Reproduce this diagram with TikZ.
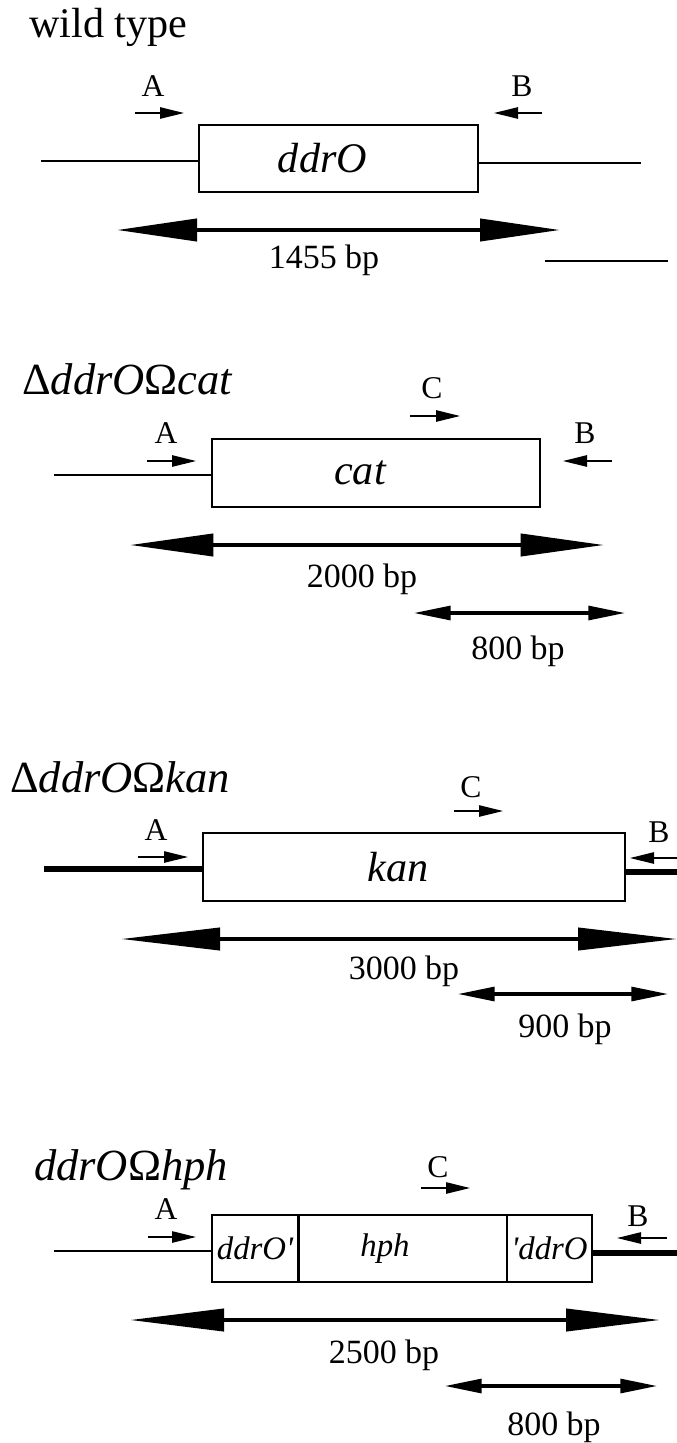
\documentclass[tikz,border=0pt]{standalone}
\usepackage{fontspec}
\setmainfont{Liberation Serif}
\usetikzlibrary{arrows.meta}

\begin{document}
\begin{tikzpicture}[x=0.03cm,y=-0.03cm,line join=miter,
  gene/.style={draw,line width=1.6pt,inner sep=0pt,minimum height=2.02cm,font=\fontsize{36}{40}\selectfont\itshape,
    execute at begin node={\hspace*{-0.96cm}}},
  part/.style={draw,line width=0.9pt,inner sep=0pt,minimum height=2.01cm,font=\fontsize{28}{32}\selectfont\itshape},
  dna/.style={line width=1.7pt},
  dnathick/.style={line width=4.3pt},
  primer/.style={-{Triangle[length=0.72cm,width=0.34cm]},line width=1.3pt},
  span/.style={{Triangle[length=#1,width=0.66cm]}-{Triangle[length=#1,width=0.66cm]},line width=3.4pt},
  span/.default=2.4cm,
  subspan/.style={{Triangle[length=1.1cm,width=0.42cm]}-{Triangle[length=1.1cm,width=0.42cm]},line width=2.6pt},
  tag/.style={anchor=base,font=\fontsize{27}{29}\selectfont},
  size/.style={anchor=base,font=\fontsize{29}{31}\selectfont},
  strain/.style={anchor=base west,font=\fontsize{38}{42}\selectfont\itshape}]
\useasboundingbox (0,0) rectangle (677,1443);

% wild type
\node[anchor=base west,font=\fontsize{36}{40}\selectfont] (wt) at (25,37) {wild type};
\node[gene,minimum width=8.37cm] (ddrO) at (338.5,158.5) {ddrO};
\coordinate (wtL) at (41,161);
\coordinate (wtR) at (641,163);
\draw[dna] (wtL) -- (wtL -| ddrO.west);
\draw[dna] (wtR -| ddrO.east) -- (wtR);

\coordinate (A1s) at (135,113);
\coordinate (A1e) at (184,113);
\coordinate (B1s) at (542,113);
\coordinate (B1e) at (494,113);
\draw[primer] (A1s) -- (A1e);
\draw[primer] (B1s) -- (B1e);
\node[tag] (A1) at (153,96) {A};
\node[tag] (B1) at (522,96) {B};

\coordinate (S1l) at (117,230);
\coordinate (S1r) at (560,230);
\draw[span] (S1l) -- (S1r);
\node[size] (L1) at (324,268) {1455 bp};
\coordinate (X1l) at (545,261);
\coordinate (X1r) at (668,261);
\draw[dna] (X1l) -- (X1r);

% cat
\node[strain] (t2) at (18,394) {{\upshape Δ}ddrO{\upshape Ω}cat};
\node[gene,minimum width=9.84cm] (cat) at (376,473) {cat};
\coordinate (catL) at (54,475);
\draw[dna] (catL) -- (catL -| cat.west);

\coordinate (A2s) at (147,461);
\coordinate (A2e) at (196,461);
\coordinate (B2s) at (612,461);
\coordinate (B2e) at (563,461);
\coordinate (C2s) at (410,416);
\coordinate (C2e) at (460,416);
\draw[primer] (A2s) -- (A2e);
\draw[primer] (B2s) -- (B2e);
\draw[primer] (C2s) -- (C2e);
\node[tag] (A2) at (166,443) {A};
\node[tag] (B2) at (585,443) {B};
\node[tag] (C2) at (432,398) {C};

\coordinate (S2l) at (130,545);
\coordinate (S2r) at (604,545);
\draw[span=2.5cm] (S2l) -- (S2r);
\node[size] (L2) at (362,587) {2000 bp};
\coordinate (U2l) at (414,613);
\coordinate (U2r) at (625,613);
\draw[subspan] (U2l) -- (U2r);
\node[size] (M2) at (518,659) {800 bp};

% kan
\node[strain] (t3) at (6,792) {{\upshape Δ}ddrO{\upshape Ω}kan};
\node[gene,minimum width=12.66cm] (kan) at (414,867) {kan};
\coordinate (kanL) at (44,869);
\coordinate (kanR) at (677,872);
\draw[dnathick] (kanL) -- (kanL -| kan.west);
\draw[dnathick] (kanR -| kan.east) -- (kanR);

\coordinate (A3s) at (138,857);
\coordinate (A3e) at (188,857);
\coordinate (B3s) at (677,858);
\coordinate (B3e) at (630,858);
\coordinate (C3s) at (454,811);
\coordinate (C3e) at (503,811);
\draw[primer] (A3s) -- (A3e);
\draw[primer] (B3s) -- (B3e);
\draw[primer] (C3s) -- (C3e);
\node[tag] (A3) at (156,840) {A};
\node[tag] (B3) at (659,842) {B};
\node[tag] (C3) at (471,797) {C};

\coordinate (S3l) at (121,939);
\coordinate (S3r) at (677,939);
\draw[span=2.97cm] (S3l) -- (S3r);
\node[size] (L3) at (404,979) {3000 bp};
\coordinate (U3l) at (458,994);
\coordinate (U3r) at (668,994);
\draw[subspan] (U3l) -- (U3r);
\node[size] (M3) at (565,1037) {900 bp};

% hph
\node[strain] (t4) at (30,1180) {ddrO{\upshape Ω}hph};
\node[part,minimum width=2.58cm] (ddrOa) at (255,1248.5) {ddrO\textquotesingle};
\node[part,line width=1.6pt,minimum width=6.24cm,execute at begin node={\hspace*{-1.08cm}}] (hph) at (403,1248.5) {hph};
\node[part,minimum width=2.55cm] (ddrOb) at (549.5,1248.5) {\textquotesingle ddrO};
\coordinate (hphL) at (54,1251);
\coordinate (hphR) at (677,1253);
\draw[dna,line width=2.4pt] (hphL) -- (hphL -| ddrOa.west);
\draw[dnathick] (hphR -| ddrOb.east) -- (hphR);

\coordinate (A4s) at (148,1237);
\coordinate (A4e) at (196,1237);
\coordinate (B4s) at (667,1238);
\coordinate (B4e) at (617,1238);
\coordinate (C4s) at (421,1188);
\coordinate (C4e) at (470,1188);
\draw[primer] (A4s) -- (A4e);
\draw[primer] (B4s) -- (B4e);
\draw[primer] (C4s) -- (C4e);
\node[tag] (A4) at (166,1219) {A};
\node[tag] (B4) at (638,1226) {B};
\node[tag] (C4) at (438,1177) {C};

\coordinate (S4l) at (130,1320);
\coordinate (S4r) at (660,1320);
\draw[span=2.82cm] (S4l) -- (S4r);
\node[size] (L4) at (384,1363) {2500 bp};
\coordinate (U4l) at (445,1386);
\coordinate (U4r) at (657,1386);
\draw[subspan] (U4l) -- (U4r);
\node[size] (M4) at (554,1435) {800 bp};
\end{tikzpicture}
\end{document}
